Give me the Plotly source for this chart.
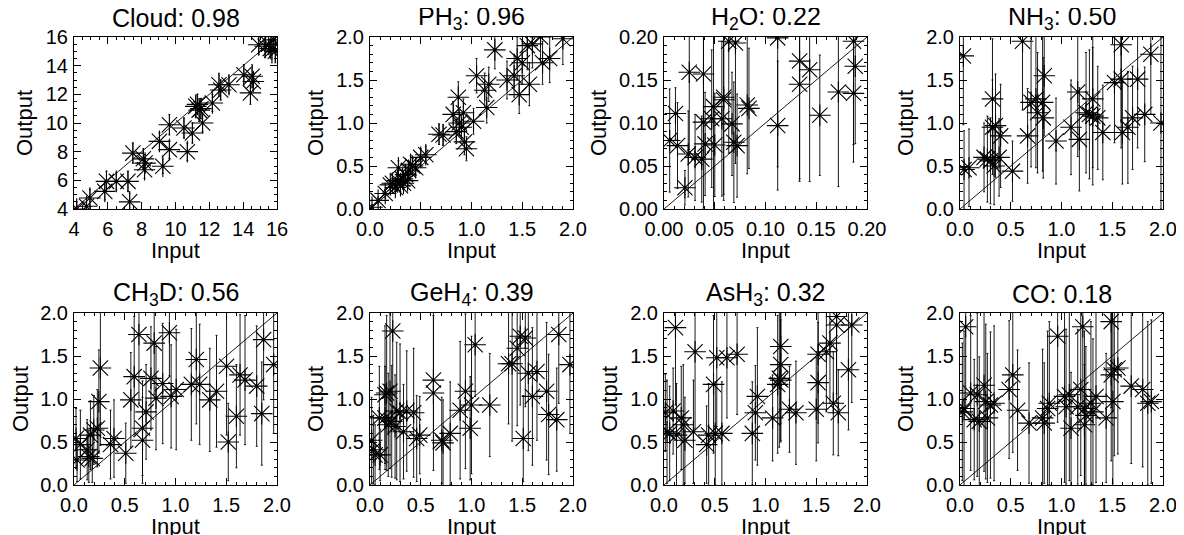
import plotly.graph_objects as go

FONT = "Liberation Sans, Arial, sans-serif"

titles = ["Cloud: 0.98", "PH<sub>3</sub>: 0.96", "H<sub>2</sub>O: 0.22", "NH<sub>3</sub>: 0.50",
          "CH<sub>3</sub>D: 0.56", "GeH<sub>4</sub>: 0.39", "AsH<sub>3</sub>: 0.32", "CO: 0.18"]

cloud_x = [4.16, 4.94, 4.74, 5.82, 5.92, 6.5, 7.19, 7.29, 7.48, 8.1, 8.17, 8.2, 9.25, 9.05, 9.64, 9.64,
           10.7, 10.5, 11.0, 11.2, 11.3, 11.4, 11.5, 11.6, 12.18, 12.57, 12.67, 13.16, 14.04, 14.43,
           14.53, 14.6, 14.92, 15.3, 15.5, 15.7, 15.8, 15.9, 15.6]
cloud_y = [4.0, 4.77, 4.19, 5.23, 5.93, 5.93, 5.93, 4.5, 7.9, 7.5, 6.74, 7.2, 6.98, 8.72, 9.88, 8.14,
           8.0, 9.65, 9.3, 11.16, 11.3, 10.9, 11.0, 10.0, 11.4, 12.67, 12.3, 12.67, 13.37, 12.1,
           13.26, 12.9, 15.46, 15.35, 15.5, 15.1, 15.8, 15.0, 15.2]
cloud_e = [0.5, 0.6, 0.5, 0.6, 0.7, 0.6, 0.7, 0.6, 0.7, 0.7, 0.6, 0.6, 0.5, 0.6, 0.7, 0.6,
           0.6, 0.7, 0.7, 0.8, 0.7, 0.8, 0.7, 0.6, 0.6, 0.8, 0.7, 0.6, 0.7, 0.8,
           0.8, 0.6, 0.7, 0.8, 0.6, 0.9, 0.7, 0.8, 0.6]

ph3_x = [0.02, 0.08, 0.15, 0.2, 0.22, 0.25, 0.27, 0.28, 0.3, 0.32, 0.33, 0.35, 0.37, 0.38, 0.4, 0.42,
         0.45, 0.5, 0.55, 0.68, 0.72, 0.82, 0.85, 0.87, 0.88, 0.9, 0.92, 0.93, 0.95, 1.02, 1.05,
         1.13, 1.15, 1.17, 1.23, 1.35, 1.42, 1.45, 1.47, 1.5, 1.55, 1.57, 1.6, 1.68, 1.7, 1.77, 1.9]
ph3_y = [0.02, 0.1, 0.18, 0.28, 0.3, 0.25, 0.33, 0.48, 0.27, 0.35, 0.3, 0.4, 0.33, 0.45, 0.52, 0.5,
         0.48, 0.6, 0.63, 0.87, 0.86, 1.1, 0.9, 1.3, 1.0, 0.95, 1.12, 0.78, 0.7, 1.02, 1.55,
         1.38, 1.18, 1.45, 1.85, 1.5, 1.55, 1.75, 1.33, 1.7, 1.9, 1.45, 1.92, 2.0, 1.7, 1.75, 1.98]
ph3_e = [0.03, 0.04, 0.05, 0.06, 0.06, 0.07, 0.06, 0.08, 0.07, 0.08, 0.07, 0.08, 0.07, 0.09, 0.1, 0.09,
         0.09, 0.1, 0.1, 0.12, 0.12, 0.15, 0.14, 0.18, 0.15, 0.15, 0.16, 0.15, 0.14, 0.15, 0.2,
         0.2, 0.18, 0.2, 0.22, 0.22, 0.25, 0.25, 0.22, 0.25, 0.28, 0.25, 0.28, 0.3, 0.25, 0.28, 0.3]

h2o_x = [0.0113, 0.0056, 0.0133, 0.0206, 0.0249, 0.0239, 0.0306, 0.0372, 0.0389, 0.0389, 0.0405,
         0.05, 0.047, 0.0488, 0.057, 0.0588, 0.0588, 0.0638, 0.0704, 0.067, 0.0688, 0.072, 0.082,
         0.0837, 0.112, 0.112, 0.1336, 0.1336, 0.1435, 0.1535, 0.1718, 0.1867, 0.1867, 0.1884]
h2o_y = [0.111, 0.0796, 0.0737, 0.0247, 0.159, 0.064, 0.06, 0.058, 0.157, 0.101, 0.0757,
         0.0745, 0.105, 0.119, 0.105, 0.127, 0.13, 0.195, 0.193, 0.099, 0.0776, 0.0737, 0.121,
         0.117, 0.199, 0.097, 0.172, 0.145, 0.162, 0.109, 0.136, 0.1345, 0.195, 0.166]
h2o_e = [0.03, 0.06, 0.05, 0.02, 0.09, 0.05, 0.05, 0.05, 0.1, 0.1, 0.06,
         0.06, 0.08, 0.12, 0.09, 0.11, 0.12, 0.13, 0.14, 0.06, 0.07, 0.06, 0.08,
         0.07, 0.15, 0.075, 0.14, 0.11, 0.13, 0.07, 0.11, 0.08, 0.12, 0.09]

nh3_x = [0.033, 0.04, 0.089, 0.237, 0.27, 0.3, 0.32, 0.32, 0.336, 0.35, 0.385, 0.4, 0.517, 0.616,
         0.666, 0.7, 0.748, 0.764, 0.814, 0.82, 0.83, 0.946, 1.094, 1.16, 1.176, 1.242, 1.275, 1.308,
         1.308, 1.357, 1.407, 1.522, 1.588, 1.588, 1.6, 1.654, 1.7, 1.75, 1.82, 1.88, 1.98]
nh3_y = [1.78, 0.46, 0.48, 0.6, 0.58, 0.56, 1.28, 0.95, 0.5, 0.97, 0.6, 0.85, 0.44, 1.95,
         0.85, 1.24, 1.28, 1.12, 1.24, 1.06, 1.55, 0.79, 0.95, 1.36, 0.81, 1.12, 1.1, 1.28,
         1.08, 1.06, 0.89, 1.47, 1.51, 1.91, 0.89, 0.95, 1.06, 1.51, 1.1, 1.8, 1.0]
nh3_e = [0.8, 0.45, 0.45, 0.4, 0.5, 0.5, 0.7, 0.55, 0.45, 0.6, 0.45, 0.6, 0.35, 0.8,
         0.55, 0.75, 0.8, 0.7, 0.8, 0.7, 0.7, 0.5, 0.55, 0.75, 0.6, 0.7, 0.75, 0.8,
         0.8, 0.6, 0.55, 0.7, 0.8, 0.9, 0.6, 0.65, 0.6, 0.8, 0.55, 0.7, 1.0]

ch3d_x = [0.02, 0.03, 0.063, 0.13, 0.146, 0.162, 0.18, 0.195, 0.23, 0.245, 0.26, 0.36, 0.394, 0.51,
          0.56, 0.593, 0.64, 0.675, 0.675, 0.71, 0.758, 0.79, 0.808, 0.874, 0.94, 0.957, 1.007,
          1.156, 1.205, 1.238, 1.338, 1.404, 1.503, 1.52, 1.6, 1.636, 1.685, 1.8, 1.85, 1.868, 1.967]
ch3d_y = [0.54, 0.29, 0.47, 0.41, 0.33, 0.58, 0.31, 0.64, 0.66, 0.97, 1.36, 0.47, 0.54, 0.37,
          0.99, 1.26, 1.75, 0.52, 0.66, 0.85, 1.24, 1.65, 1.01, 1.18, 1.77, 1.03, 1.11,
          1.17, 1.46, 1.17, 0.99, 1.09, 1.38, 0.5, 0.8, 1.28, 1.22, 1.15, 0.83, 1.69, 1.4]
ch3d_e = [0.35, 0.25, 0.4, 0.35, 0.3, 0.4, 0.28, 0.4, 0.45, 0.6, 0.9, 0.4, 0.45, 0.35,
          0.55, 0.7, 0.8, 0.5, 0.55, 0.55, 0.6, 0.6, 0.6, 0.7, 0.5, 0.6, 0.7,
          0.65, 0.75, 0.7, 0.6, 0.65, 0.8, 0.45, 0.6, 0.7, 0.75, 0.7, 0.6, 0.7, 0.8]

geh4_x = [0.016, 0.033, 0.05, 0.1, 0.092, 0.148, 0.148, 0.164, 0.197, 0.18, 0.214, 0.224, 0.247,
          0.263, 0.296, 0.33, 0.362, 0.43, 0.46, 0.49, 0.625, 0.625, 0.707, 0.72, 0.79, 0.888,
          0.94, 0.987, 1.0, 1.036, 1.18, 1.365, 1.4, 1.45, 1.48, 1.51, 1.53, 1.56, 1.6, 1.645,
          1.74, 1.76, 1.84, 1.86, 1.97]
geh4_y = [0.52, 0.41, 0.35, 0.35, 0.78, 0.78, 1.05, 1.07, 1.09, 0.7, 0.74, 1.79, 0.68,
          0.86, 0.84, 0.62, 0.86, 0.84, 0.54, 0.58, 1.22, 1.07, 0.52, 0.49, 0.6, 0.87,
          1.09, 0.66, 0.93, 1.63, 0.93, 1.41, 1.41, 1.59, 1.73, 0.54, 1.71, 1.3, 1.03, 1.32,
          1.09, 0.82, 0.76, 1.75, 1.4]
geh4_e = [0.5, 0.4, 0.35, 0.3, 0.6, 0.6, 0.8, 0.9, 0.9, 0.6, 0.65, 1.0, 0.6,
          0.8, 0.8, 0.55, 0.7, 0.75, 0.5, 0.45, 0.8, 0.9, 0.5, 0.5, 0.6, 0.8,
          0.9, 0.6, 0.8, 0.6, 0.6, 0.7, 0.9, 0.9, 0.8, 0.5, 0.8, 0.9, 0.8, 0.8,
          0.8, 0.7, 0.6, 0.8, 0.8]

ash3_x = [0.013, 0.03, 0.056, 0.09, 0.113, 0.123, 0.17, 0.19, 0.206, 0.29, 0.306, 0.42, 0.44,
          0.488, 0.505, 0.52, 0.57, 0.62, 0.72, 0.87, 0.9, 0.92, 1.07, 1.12, 1.136, 1.15, 1.15,
          1.15, 1.236, 1.3, 1.5, 1.518, 1.518, 1.6, 1.635, 1.668, 1.7, 1.717, 1.817, 1.85, 1.7]
ash3_y = [0.84, 0.62, 0.6, 0.86, 1.83, 0.58, 0.78, 0.7, 0.52, 0.62, 1.55, 0.47, 0.58,
          1.17, 0.6, 1.48, 0.6, 1.48, 1.52, 0.6, 0.84, 1.03, 0.78, 1.17, 1.24, 1.4, 1.61,
          1.22, 0.88, 0.84, 0.88, 1.52, 1.19, 1.55, 1.65, 0.95, 1.86, 0.84, 1.34, 1.86, 1.96]
ash3_e = [0.45, 0.6, 0.55, 0.5, 0.9, 0.6, 0.6, 0.7, 0.5, 0.6, 0.9, 0.45, 0.6,
          0.8, 0.6, 0.8, 0.6, 0.7, 0.7, 0.6, 0.55, 0.8, 0.5, 0.8, 0.8, 0.9, 0.9,
          0.7, 0.5, 0.6, 0.6, 0.8, 0.7, 0.7, 0.7, 0.6, 0.9, 0.5, 0.7, 0.9, 0.9]

co_x = [0.023, 0.04, 0.056, 0.105, 0.14, 0.17, 0.19, 0.237, 0.254, 0.27, 0.3, 0.336, 0.484, 0.52,
        0.567, 0.68, 0.814, 0.83, 0.863, 0.88, 0.962, 1.03, 1.045, 1.077, 1.094, 1.16, 1.19, 1.21,
        1.226, 1.226, 1.24, 1.29, 1.31, 1.34, 1.44, 1.49, 1.49, 1.506, 1.52, 1.555, 1.687, 1.8,
        1.85, 1.885]
co_y = [0.85, 0.89, 1.84, 1.07, 0.76, 1.05, 0.74, 1.16, 0.97, 0.78, 0.93, 0.95, 1.11, 1.28,
        0.87, 0.72, 0.78, 0.72, 0.89, 0.95, 1.73, 1.03, 0.91, 1.05, 0.66, 0.91, 1.11, 1.84,
        0.89, 0.7, 0.81, 0.95, 0.85, 1.03, 0.78, 1.9, 1.28, 0.97, 1.34, 1.36, 1.15, 1.11,
        0.95, 0.97]
co_e = [0.8, 0.9, 1.0, 0.9, 0.7, 0.95, 0.75, 1.0, 0.9, 0.75, 0.85, 0.9, 0.8, 0.9,
        0.7, 0.7, 0.8, 0.7, 0.9, 0.95, 1.0, 1.0, 0.9, 1.0, 0.65, 0.9, 1.0, 1.0,
        0.9, 0.7, 0.8, 0.95, 0.85, 1.0, 0.75, 1.0, 1.0, 0.95, 1.0, 1.0, 0.9, 0.9,
        0.95, 0.95]

panels = [
    (cloud_x, cloud_y, cloud_e, [4, 16], 2, 0.5),
    (ph3_x, ph3_y, ph3_e, [0, 2], 0.5, 0.1),
    (h2o_x, h2o_y, h2o_e, [0, 0.2], 0.05, 0.01),
    (nh3_x, nh3_y, nh3_e, [0, 2], 0.5, 0.1),
    (ch3d_x, ch3d_y, ch3d_e, [0, 2], 0.5, 0.1),
    (geh4_x, geh4_y, geh4_e, [0, 2], 0.5, 0.1),
    (ash3_x, ash3_y, ash3_e, [0, 2], 0.5, 0.1),
    (co_x, co_y, co_e, [0, 2], 0.5, 0.1),
]
tickformats = [".0f", ".1f", ".2f", ".1f", ".1f", ".1f", ".1f", ".1f"]
out_offsets = [50, 55, 66, 55, 54, 55, 55, 55]

# page body has an 8px margin; work in window pixels and shift
OFF = 8
W, H = 1184 - OFF, 535 - OFF
lefts = [74, 370, 664, 960]
pw = 203
rows_px = [(37, 209), (313, 485)]


def px(xp):
    return (xp - OFF) / W


def py(yp):
    return 1 - (yp - OFF) / H


fig = go.Figure()
annotations = []
for i, (xs, ys, es, rng, dt, mdt) in enumerate(panels):
    r, c = divmod(i, 4)
    n = i + 1
    xa = "x" if n == 1 else f"x{n}"
    ya = "y" if n == 1 else f"y{n}"
    x0 = px(lefts[c])
    x1 = px(lefts[c] + pw)
    top, bot = rows_px[r]
    y0 = py(bot)
    y1 = py(top)
    fig.add_trace(go.Scatter(
        x=xs, y=ys, mode="markers", xaxis=xa, yaxis=ya,
        marker=dict(symbol="asterisk-open", size=18, color="black",
                    line=dict(color="black", width=1.1)),
        error_y=dict(type="data", array=es, visible=True, color="black",
                     thickness=0.9, width=1),
        showlegend=False, cliponaxis=True))
    fig.add_trace(go.Scatter(
        x=rng, y=rng, mode="lines", xaxis=xa, yaxis=ya,
        line=dict(color="black", width=0.9), showlegend=False))
    axcommon = dict(
        range=rng, dtick=dt, tick0=rng[0], ticks="inside", ticklen=7,
        tickwidth=1, tickcolor="black", mirror="allticks", showline=True,
        linecolor="black", linewidth=1, showgrid=False, zeroline=False,
        automargin=False, tickformat=tickformats[i],
        tickfont=dict(family=FONT, size=20, color="black"),
        minor=dict(ticks="inside", ticklen=3, dtick=mdt, tickcolor="black", showgrid=False),
    )
    fig.layout[("xaxis" if n == 1 else f"xaxis{n}")] = dict(
        axcommon, domain=[x0, x1], anchor=ya, ticklabelstandoff=2)
    fig.layout[("yaxis" if n == 1 else f"yaxis{n}")] = dict(
        axcommon, domain=[y0, y1], anchor=xa, ticklabelstandoff=1)
    annotations.append(dict(
        text=titles[i], x=(x0 + x1) / 2, y=py(top - 19), xref="paper", yref="paper",
        xanchor="center", yanchor="middle", showarrow=False,
        font=dict(family=FONT, size=25, color="black")))
    annotations.append(dict(
        text="Input", x=(x0 + x1) / 2, y=py(bot + 41), xref="paper", yref="paper",
        xanchor="center", yanchor="middle", showarrow=False,
        font=dict(family=FONT, size=22, color="black")))
    annotations.append(dict(
        text="Output", x=px(lefts[c] - out_offsets[i]), y=(y0 + y1) / 2, xref="paper",
        yref="paper", xanchor="center", yanchor="middle", showarrow=False, textangle=-90,
        font=dict(family=FONT, size=22, color="black")))

fig.update_layout(
    template="none",
    width=W, height=H, margin=dict(l=0, r=0, t=0, b=0),
    paper_bgcolor="white", plot_bgcolor="white",
    annotations=annotations,
)
fig.write_html("out.html")
